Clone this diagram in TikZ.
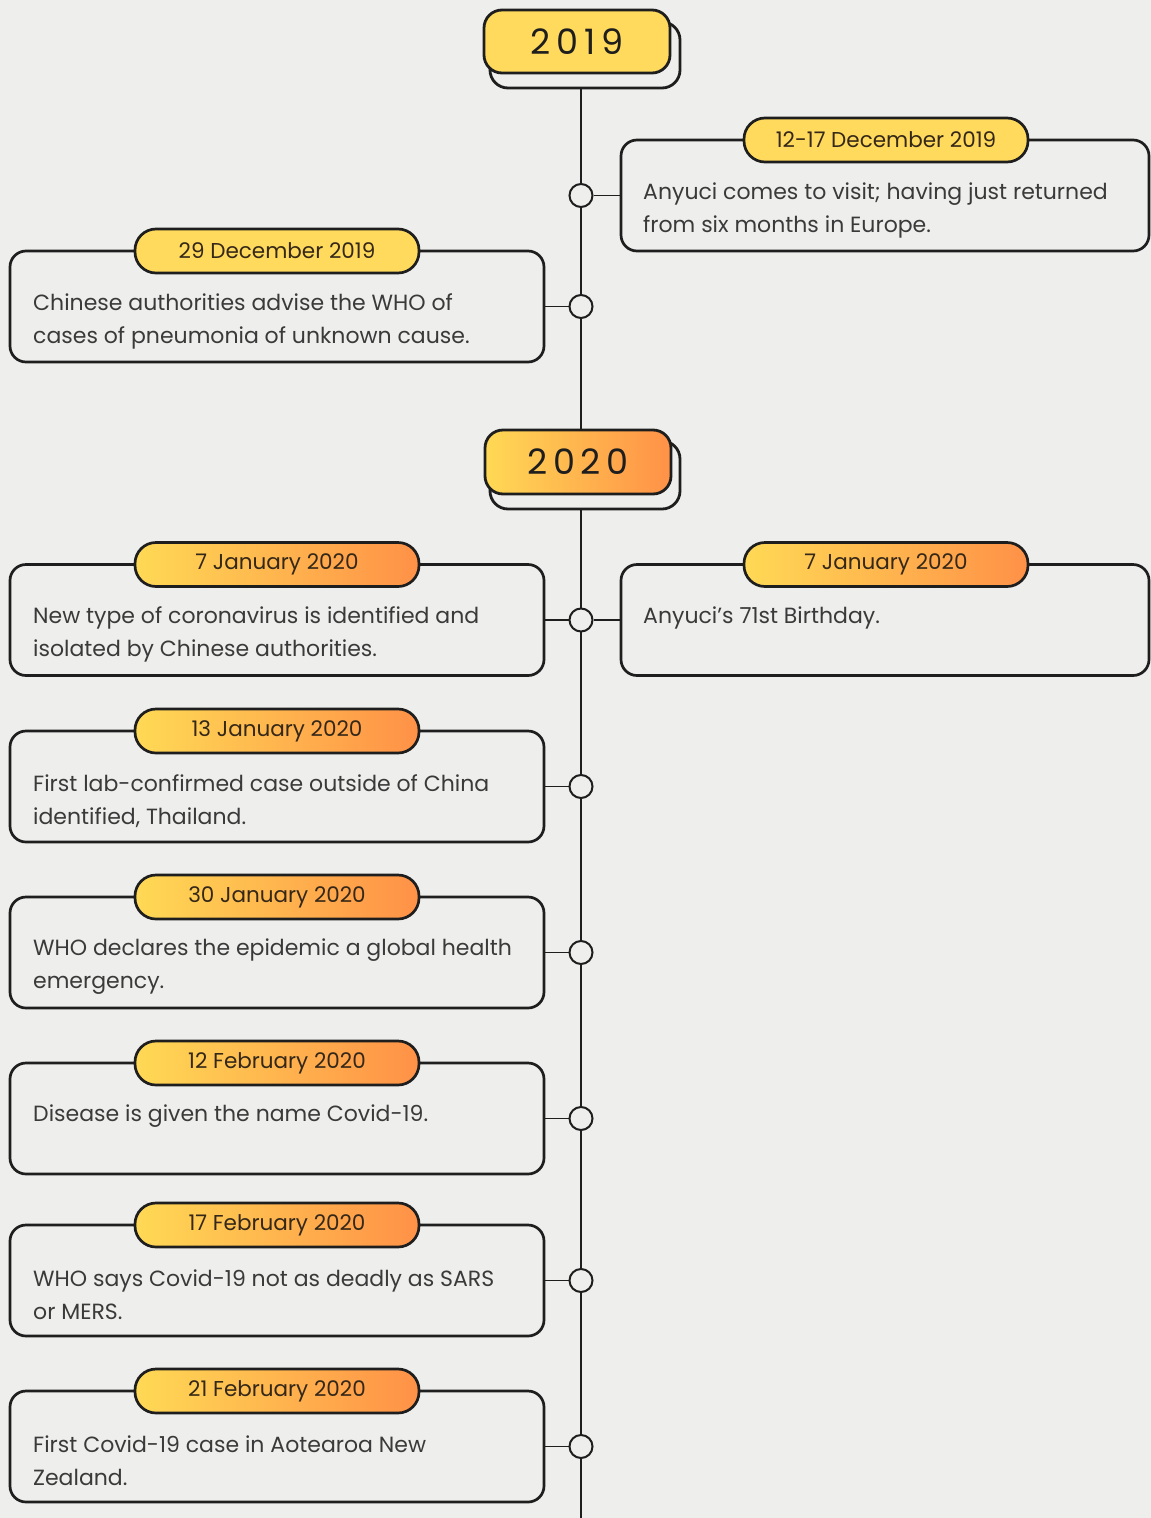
\documentclass[tikz,border=0pt]{standalone}
\usepackage{fontspec}
\setmainfont{Poppins}
\definecolor{bgcol}{HTML}{EEEEEC}
\definecolor{ylw}{HTML}{FFDA5C}
\definecolor{gylw}{HTML}{FFD955}
\definecolor{gorg}{HTML}{FF9147}
\definecolor{inkc}{HTML}{1E1E1E}
\definecolor{txtc}{HTML}{3A3A3A}
\definecolor{datec}{HTML}{352818}
\begin{document}
\begin{tikzpicture}[x=1pt,y=-1pt,
  evbox/.style={draw=inkc, line width=2.7pt, rounded corners=16pt, minimum height=111pt, inner sep=0pt},
  leftbox/.style={evbox, minimum width=534pt},
  rightbox/.style={evbox, minimum width=528pt},
  pillbase/.style={draw=inkc, line width=2.7pt, rounded corners=21pt, minimum width=284pt, minimum height=44pt, inner sep=0pt, text=datec, font=\fontsize{21.5}{25}\selectfont},
  pilly/.style={pillbase, fill=ylw},
  pillg/.style={pillbase, left color=gylw, right color=gorg},
  evtxt/.style={anchor=west, inner sep=0pt, align=left, text=txtc, font=\fontsize{22}{33}\selectfont},
  dot/.style={circle, draw=inkc, line width=2pt, fill=bgcol, minimum size=23pt, inner sep=0pt},
  stub/.style={draw=inkc, line width=1.6pt},
  yearshadow/.style={draw=inkc, line width=2.8pt, rounded corners=18pt, fill=bgcol, minimum width=190pt, inner sep=0pt},
  yearbox/.style={draw=inkc, line width=2.8pt, rounded corners=18pt, minimum width=186pt, inner sep=0pt, text=inkc, font=\fontsize{35}{40}\selectfont\addfontfeature{LetterSpace=16}}
]
\fill[bgcol] (0,0) rectangle (1151,1518);
\useasboundingbox (0,0) rectangle (1151,1518);

% timeline
\coordinate (ltop) at (581,88);
\coordinate (lbot) at (581,1518);
\draw[stub] (ltop) -- (lbot);

% years
\node[yearshadow, minimum height=66pt] (y19s) at (585,55) {};
\node[yearbox, fill=ylw, minimum height=63pt] (y19) at (577,41.5) {2019};
\node[yearshadow, minimum height=68pt] (y20s) at (585,475) {};
\node[yearbox, left color=gylw, right color=gorg, minimum height=64pt] (y20) at (578,462) {2020};

% 12-17 December 2019 (right)
\node[rightbox] (e1) at (885,195.5) {};
\node[pilly] (d1) at (886,140) {12-17 December 2019};
\node[evtxt] (t1) at (643,210) {Anyuci comes to visit; having just returned\\from six months in Europe.};
\node[dot] (c1) at (581,195.5) {};
\draw[stub] (c1) -- (e1.west);

% 29 December 2019
\node[leftbox] (e2) at (277,306.5) {};
\node[pilly] (d2) at (277,251) {29 December 2019};
\node[evtxt] (t2) at (33,321) {Chinese authorities advise the WHO of\\cases of pneumonia of unknown cause.};
\node[dot] (c2) at (581,306.5) {};
\draw[stub] (e2.east) -- (c2);

% 7 January 2020 left and right
\node[leftbox] (e3) at (277,620) {};
\node[pillg] (d3) at (277,564.5) {7 January 2020};
\node[evtxt] (t3) at (33,634.5) {New type of coronavirus is identified and\\isolated by Chinese authorities.};
\node[rightbox] (e4) at (885,620) {};
\node[pillg] (d4) at (886,564.5) {7 January 2020};
\node[evtxt] (t4) at (643,617.5) {Anyuci’s 71st Birthday.};
\node[dot] (c3) at (581,620) {};
\draw[stub] (e3.east) -- (c3);
\draw[stub] (c3) -- (e4.west);

% 13 January 2020
\node[leftbox] (e5) at (277,786.5) {};
\node[pillg] (d5) at (277,731) {13 January 2020};
\node[evtxt] (t5) at (33,801) {First lab-confirmed case outside of China\\identified, Thailand.};
\node[dot] (c5) at (581,786.5) {};
\draw[stub] (e5.east) -- (c5);

% 30 January 2020
\node[leftbox] (e6) at (277,952.5) {};
\node[pillg] (d6) at (277,897) {30 January 2020};
\node[evtxt] (t6) at (33,967) {WHO declares the epidemic a global health\\emergency.};
\node[dot] (c6) at (581,952.5) {};
\draw[stub] (e6.east) -- (c6);

% 12 February 2020
\node[leftbox] (e7) at (277,1118.5) {};
\node[pillg] (d7) at (277,1063) {12 February 2020};
\node[evtxt] (t7) at (33,1116) {Disease is given the name Covid-19.};
\node[dot] (c7) at (581,1118.5) {};
\draw[stub] (e7.east) -- (c7);

% 17 February 2020
\node[leftbox] (e8) at (277,1280.5) {};
\node[pillg] (d8) at (277,1225) {17 February 2020};
\node[evtxt] (t8) at (33,1295) {WHO says Covid-19 not as deadly as SARS\\or MERS.};
\node[dot] (c8) at (581,1280.5) {};
\draw[stub] (e8.east) -- (c8);

% 21 February 2020
\node[leftbox] (e9) at (277,1446.5) {};
\node[pillg] (d9) at (277,1391) {21 February 2020};
\node[evtxt] (t9) at (33,1461) {First Covid-19 case in Aotearoa New\\Zealand.};
\node[dot] (c9) at (581,1446.5) {};
\draw[stub] (e9.east) -- (c9);
\end{tikzpicture}
\end{document}
